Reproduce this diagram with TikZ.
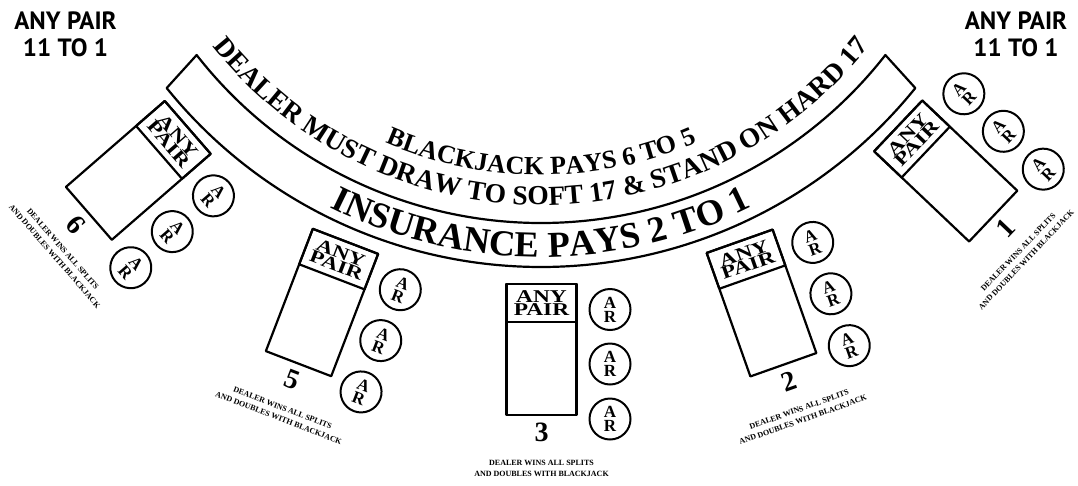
\documentclass[tikz,border=0pt]{standalone}
\usepackage{fontspec}
\setmainfont{Liberation Serif}
\newfontfamily\cornerfont{PT Sans}
\newfontfamily\widefont[FakeStretch=1.3]{Liberation Serif}
\usetikzlibrary{decorations.text}

\tikzset{
  rim/.style={line width=2.2pt},
  cardbox/.style={draw, line width=2.2pt, minimum width=70pt, minimum height=131pt, inner sep=0pt, transform shape},
  pairbox/.style={draw, line width=2.2pt, minimum width=70pt, minimum height=38pt, inner sep=0pt, align=center,
    font=\widefont\fontsize{18}{12.5}\selectfont\bfseries, transform shape},
  chip/.style={draw, circle, line width=2pt, minimum size=41pt, inner sep=0pt, align=center,
    font=\fontsize{17}{14}\selectfont\bfseries, transform shape},
  seatno/.style={inner sep=0pt, font=\fontsize{28}{28}\selectfont\bfseries, transform shape},
  houserule/.style={inner sep=0pt, align=center, font=\fontsize{8}{11}\selectfont\bfseries, transform shape},
  cornerlbl/.style={inner sep=0pt, align=center, font=\cornerfont\fontsize{25}{27}\selectfont\bfseries},
  % #1 座位号, (#2,#3) 小字位置
  pics/betspot/.style n args={3}{code={
    \node[cardbox] (-card) at (0,0) {};
    \node[pairbox] (-pair) at (0,-46.5) {ANY\\PAIR};
    \foreach \k/\yy in {1/-40,2/14.5,3/69.5}
      \node[chip] (-chip\k) at (68.5,\yy) {A\\R};
    \node[seatno] (-no) at (0,83) {#1};
    \node[houserule] (-rule) at (#2,#3) {DEALER WINS ALL SPLITS\\AND DOUBLES WITH BLACKJACK};
  }},
}

\begin{document}
\begin{tikzpicture}[x=1pt, y=-1pt, line cap=round, line join=round]

  %% ════ 底色 ════
  \fill[white] (0,0) rectangle (1078,485);

  %% ════ 保险弧带（圆心在画面上方）════
  \coordinate (hub) at (541,-214);
  \path (hub) ++(142:437) coordinate (inL)
        (hub) ++(38.9:481) coordinate (outR)
        (hub) ++(145:419) coordinate (ruleL)
        (hub) ++(130:389) coordinate (payL)
        (hub) ++(125:471) coordinate (insL);
  \draw[rim] (inL) arc[start angle=142, end angle=38, radius=437]
    -- (outR) arc[start angle=38.9, end angle=141.1, radius=481] -- cycle;

  %% ════ 弧形文字 ════
  \path[decorate, decoration={text along path, text align=center,
    text={|\fontsize{26}{26}\selectfont\bfseries|BLACKJACK PAYS 6 TO 5}}]
    (payL) arc[start angle=130, end angle=50, radius=389];
  \path[decorate, decoration={text along path, text align=center,
    text={|\fontsize{27.5}{28}\selectfont\bfseries|DEALER MUST DRAW TO SOFT 17 {\&} STAND ON HARD 17}}]
    (ruleL) arc[start angle=145, end angle=35, radius=419];
  \path[decorate, decoration={text along path, text align=center,
    text={|\fontsize{36.5}{37}\selectfont\bfseries|INSURANCE PAYS 2 TO 1}}]
    (insL) arc[start angle=125, end angle=55, radius=471];

  %% ════ 六个座位（从右往左 1..6）════
  \pic[rotate=46.5] (s1) at (945.7,171) {betspot={1}{-9}{114}};
  \pic[rotate=19.5] (s2) at (761.5,303) {betspot={2}{0}{118.5}};
  \pic (s3) at (541.5,349.5) {betspot={3}{0}{118.5}};
  \pic[rotate=-21] (s5) at (322,302.5) {betspot={5}{1}{118}};
  \pic[rotate=-49] (s6) at (138.3,170.4) {betspot={6}{10}{114}};

  %% ════ 角落赔率 ════
  \node[cornerlbl] (pairL) at (65.5,34.5) {ANY PAIR\\11 TO 1};
  \node[cornerlbl] (pairR) at (1016,34.5) {ANY PAIR\\11 TO 1};

  % 钉死画布
  \pgfresetboundingbox
  \path[use as bounding box] (0,0) rectangle (1078,485);
\end{tikzpicture}
\end{document}
